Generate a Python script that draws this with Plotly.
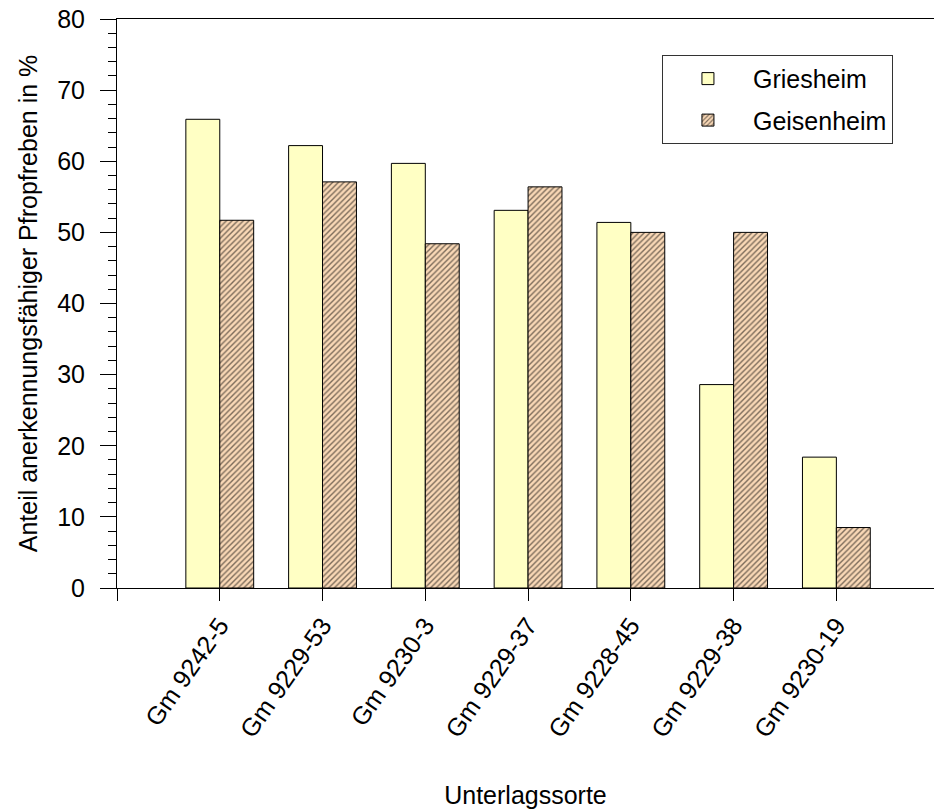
import plotly.graph_objects as go

categories = ["Gm 9242-5", "Gm 9229-53", "Gm 9230-3", "Gm 9229-37",
              "Gm 9228-45", "Gm 9229-38", "Gm 9230-19"]
griesheim = [65.9, 62.2, 59.7, 53.1, 51.4, 28.6, 18.4]
geisenheim = [51.7, 57.1, 48.4, 56.4, 50.0, 50.0, 8.5]
y_ticks = [0, 10, 20, 30, 40, 50, 60, 70, 80]

xpos = list(range(len(categories)))
FONT = "Liberation Sans, Arial, sans-serif"
FS = 25

fig = go.Figure()
fig.add_trace(go.Bar(
    x=xpos, y=griesheim, name="Griesheim", legendgroup="a",
    marker=dict(color="#FFFFC4", line=dict(color="#000000", width=1)),
))
fig.add_trace(go.Bar(
    x=xpos, y=geisenheim, name="Geisenheim", legendgroup="b",
    marker=dict(color="#F9D8B6", line=dict(color="#000000", width=1),
                pattern=dict(shape="/", fgcolor="#000000", bgcolor="#F9D8B6",
                             size=4, solidity=0.35)),
))

fig.update_layout(
    width=934, height=811,
    margin=dict(l=117, r=0, t=19, b=223),
    paper_bgcolor="white", plot_bgcolor="white",
    barmode="group", bargap=0.34, bargroupgap=0,
    font=dict(family=FONT, size=FS, color="#000000"),
    showlegend=True,
    legend=dict(
        x=0.667, y=0.937, xanchor="left", yanchor="top",
        bordercolor="#333333", borderwidth=1, bgcolor="white",
        font=dict(family=FONT, size=FS), traceorder="grouped",
        tracegroupgap=6, itemwidth=80,
    ),
    xaxis=dict(
        range=[-1, 6.95],
        tickmode="array", tickvals=[-1] + xpos, ticktext=[""] + categories,
        tickangle=-55, ticks="outside", ticklen=12, tickcolor="#000000",
        showline=True, linecolor="#000000", linewidth=1, mirror=True,
        showgrid=False, zeroline=False,
        title=dict(text="Unterlagssorte", standoff=45,
                   font=dict(family=FONT, size=FS)),
        tickfont=dict(family=FONT, size=FS),
    ),
    yaxis=dict(
        range=[0, 80],
        tickmode="array", tickvals=y_ticks,
        ticks="outside", ticklen=16, tickcolor="#000000",
        ticklabelstandoff=10,
        minor=dict(dtick=2, ticks="outside", ticklen=8, tickcolor="#000000", showgrid=False),
        showline=True, linecolor="#000000", linewidth=1,
        showgrid=False, zeroline=False,
        title=dict(text="Anteil anerkennungsfähiger Pfropfreben in %", standoff=12,
                   font=dict(family=FONT, size=FS)),
        tickfont=dict(family=FONT, size=FS),
    ),
)

fig.write_html("out.html")
